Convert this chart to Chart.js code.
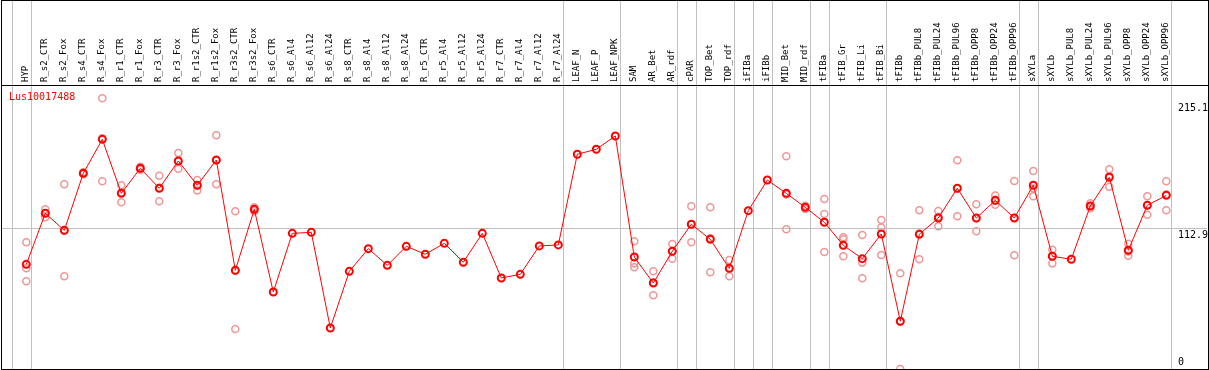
<!DOCTYPE html>
<html>
<head>
<meta charset="utf-8">
<script src="https://cdn.jsdelivr.net/npm/chart.js@4"></script>
<style>
  body { margin: 0; background: #fff; }
  #wrap { width: 1209px; height: 370px; }
</style>
</head>
<body>
<div id="wrap"><canvas id="chart"></canvas></div>
<script>
var geneName = 'Lus10017488';

var categories = ['HYP', 'R_s2_CTR', 'R_s2_Fox', 'R_s4_CTR', 'R_s4_Fox', 'R_r1_CTR', 'R_r1_Fox',
    'R_r3_CTR', 'R_r3_Fox', 'R_r1s2_CTR', 'R_r1s2_Fox', 'R_r3s2_CTR', 'R_r3s2_Fox',
    'R_s6_CTR', 'R_s6_Al4', 'R_s6_Al12', 'R_s6_Al24', 'R_s8_CTR', 'R_s8_Al4', 'R_s8_Al12', 'R_s8_Al24',
    'R_r5_CTR', 'R_r5_Al4', 'R_r5_Al12', 'R_r5_Al24', 'R_r7_CTR', 'R_r7_Al4', 'R_r7_Al12', 'R_r7_Al24',
    'LEAF_N', 'LEAF_P', 'LEAF_NPK', 'SAM', 'AR_Bet', 'AR_rdf', 'cPAR', 'TOP_Bet', 'TOP_rdf',
    'iFIBa', 'iFIBb', 'MID_Bet', 'MID_rdf', 'tFIBa', 'tFIB_Gr', 'tFIB_Li', 'tFIB_Bi', 'tFIBb',
    'tFIBb_PUL8', 'tFIBb_PUL24', 'tFIBb_PUL96', 'tFIBb_OPP8', 'tFIBb_OPP24', 'tFIBb_OPP96',
    'sXYLa', 'sXYLb', 'sXYLb_PUL8', 'sXYLb_PUL24', 'sXYLb_PUL96', 'sXYLb_OPP8', 'sXYLb_OPP24', 'sXYLb_OPP96'];

var meanValues = [84.0, 125.0, 111.3, 157.1, 184.4, 141.0, 161.1, 145.1, 167.0, 147.5, 167.8, 79.2, 128.2,
    61.8, 108.9, 109.7, 32.9, 78.4, 96.6, 83.2, 98.5, 92.1, 100.9, 85.7, 108.9, 73.1, 76.0, 98.8, 99.6,
    172.4, 176.4, 187.1, 89.9, 69.0, 94.5, 116.2, 104.1, 80.8, 127.1, 151.7, 141.0, 129.8,
    117.8, 99.3, 88.6, 108.4, 38.3, 108.1, 121.2, 145.1, 121.2, 135.4, 121.2,
    147.5, 90.5, 88.1, 130.9, 153.9, 95.3, 131.4, 139.4];

// replicate samples (null = no replicate drawn)
var rep1 = [101.7, 128.2, 148.3, 158.0, 217.3, 147.5, 162.4, 155.2, 173.4, 151.7, 187.6, 126.6, 129.8,
    null, null, null, null, null, null, null, null, null, null, null, null, null, null, null, null,
    null, null, null, 102.5, 78.4, 100.4, 130.6, 129.8, 87.5, null, null, 170.8, 131.0,
    136.5, 105.7, 107.6, 119.6, 76.8, 127.4, 126.8, 167.6, 132.2, 139.2, 150.9,
    159.0, 95.8, null, 133.0, 160.3, 100.6, 138.6, 150.7];
var rep2 = [80.8, 125.0, 111.2, 157.0, 185.2, 141.7, 161.0, 145.5, 166.8, 147.4, 167.5, 79.0, 128.2,
    null, null, null, null, null, null, null, null, null, null, null, null, null, null, null, null,
    null, null, null, 84.8, 69.5, 94.5, 116.3, 105.0, 80.5, null, null, 140.0, 129.8,
    124.4, 104.1, 85.4, 113.5, 38.1, 108.8, 122.2, 145.0, 121.0, 135.0, 121.4,
    144.9, 90.9, null, 131.0, 155.0, 94.3, 131.7, 140.0];
var rep3 = [70.4, 121.8, 74.4, 156.3, 150.7, 133.8, 159.9, 134.6, 160.8, 143.4, 148.3, 32.1, 126.6,
    null, null, null, null, null, null, null, null, null, null, null, null, null, null, null, null,
    null, null, null, 81.6, 59.2, 88.6, 101.7, 77.6, 74.4, null, null, 112.2, 128.5,
    93.9, 90.5, 72.8, 91.5, 0, 88.1, 114.6, 122.6, 110.5, 131.9, 91.3,
    138.6, 84.8, null, 129.0, 146.4, 91.0, 123.9, 127.4];

var yTicks = [0, 112.9, 215.1];
// group separators sit just after these category indices
var groupEnds = [-1, 0, 28, 31, 34, 35, 37, 38, 39, 41, 42, 45, 52, 53, 60];

var mono = '"DejaVu Sans Mono", "Liberation Mono", monospace';

var meanPoints = meanValues.map(function (v, i) { return { x: i, y: v }; });
var repPoints = [];
[rep1, rep2, rep3].forEach(function (arr) {
    arr.forEach(function (v, i) {
        if (v !== null) repPoints.push({ x: i, y: v });
    });
});

var decorPlugin = {
    id: 'decor',
    beforeDatasetsDraw: function (chart) {
        var c = chart.ctx, a = chart.chartArea, xs = chart.scales.x;
        c.save();
        c.strokeStyle = '#c0c0c0';
        c.lineWidth = 1;
        groupEnds.forEach(function (b) {
            var px = Math.round(xs.getPixelForValue(b + 0.23)) + 0.5;
            c.beginPath();
            c.moveTo(px, 0);
            c.lineTo(px, a.bottom);
            c.stroke();
        });

        // rotated category labels above the plot
        c.fillStyle = '#000';
        c.font = '9px ' + mono;
        c.textAlign = 'left';
        c.textBaseline = 'middle';
        categories.forEach(function (name, i) {
            var px = xs.getPixelForValue(i);
            c.save();
            c.translate(px - 1, a.top - 3);
            c.rotate(-Math.PI / 2);
            c.fillText(name, 0, 0);
            c.restore();
        });
        c.restore();
    },
    afterDraw: function (chart) {
        var c = chart.ctx, a = chart.chartArea, ys = chart.scales.y;
        c.save();
        c.strokeStyle = '#000';
        c.lineWidth = 1;
        c.strokeRect(1.5, 0.5, 1207, 369);
        c.beginPath();
        c.moveTo(1, a.top + 0.5);
        c.lineTo(1208, a.top + 0.5);
        c.stroke();

        c.font = '10px ' + mono;
        c.fillStyle = '#000';
        c.textAlign = 'left';
        c.textBaseline = 'top';
        yTicks.forEach(function (v) {
            var py = Math.min(ys.getPixelForValue(v) + 2, a.bottom - 12);
            c.fillText(String(v), 1178, py);
        });

        c.fillStyle = '#ff0000';
        c.font = '10px ' + mono;
        c.textBaseline = 'middle';
        c.fillText(geneName, 9, a.top + 12);
        c.restore();
    }
};

var ctx = document.getElementById('chart').getContext('2d');
var chart = new Chart(ctx, {
    type: 'line',
    data: {
        datasets: [{
            type: 'scatter',
            data: repPoints,
            showLine: false,
            pointRadius: 3.5,
            pointBorderWidth: 1.5,
            pointBorderColor: '#ef9696',
            pointBackgroundColor: 'rgba(0,0,0,0)',
            order: 2
        }, {
            data: meanPoints,
            borderColor: '#ff0000',
            borderWidth: 1,
            tension: 0,
            pointRadius: 3.5,
            pointBorderWidth: 2,
            pointBorderColor: '#ff0000',
            pointBackgroundColor: 'rgba(0,0,0,0)',
            order: 1
        }]
    },
    options: {
        responsive: true,
        maintainAspectRatio: false,
        animation: false,
        layout: { autoPadding: false, padding: { left: 1, right: 2, top: 0, bottom: 1 } },
        plugins: {
            legend: { display: false },
            tooltip: { enabled: false }
        },
        scales: {
            x: {
                type: 'linear',
                position: 'top',
                min: -1.3316,
                max: 62.142,
                afterFit: function (scale) {
                    scale.height = 85;
                    scale.paddingLeft = 0;
                    scale.paddingRight = 0;
                },
                grid: { display: false, drawTicks: false },
                border: { display: false },
                ticks: { display: false }
            },
            y: {
                min: 0,
                max: 228,
                afterBuildTicks: function (scale) {
                    scale.ticks = yTicks.map(function (v) { return { value: v }; });
                },
                afterFit: function (scale) {
                    scale.width = 0;
                    scale.paddingTop = 0;
                    scale.paddingBottom = 0;
                },
                grid: {
                    drawTicks: false,
                    color: function (c) { return c.tick && c.tick.value === 112.9 ? '#c0c0c0' : 'rgba(0,0,0,0)'; }
                },
                border: { display: false },
                ticks: { display: false }
            }
        }
    },
    plugins: [decorPlugin]
});
</script>
</body>
</html>
